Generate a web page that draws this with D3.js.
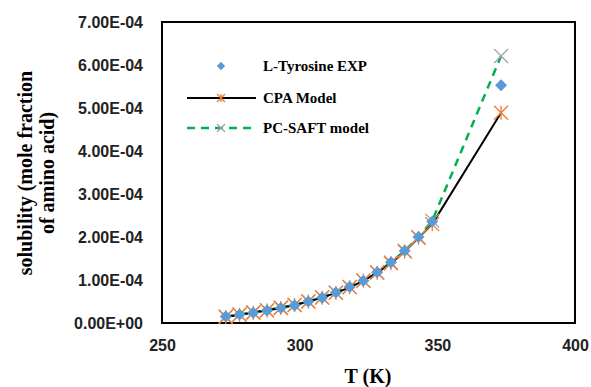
<!DOCTYPE html>
<html>
<head>
<meta charset="utf-8">
<script src="https://cdn.jsdelivr.net/npm/d3@7"></script>
<style>
  body { margin: 0; background: #fff; }
  svg { display: block; }
</style>
</head>
<body>
<div id="chart"></div>
<script>
// Temperatures (K)
const temps = [273.15, 278.15, 283.15, 288.15, 293.15, 298.15, 303.15, 308.15, 313.15,
  318.15, 323.15, 328.15, 333.15, 338.15, 343.15, 348.15, 373.15];

// Solubility, mole fraction
const expValues = [1.5e-5, 2.0e-5, 2.4e-5, 2.9e-5, 3.5e-5, 4.1e-5, 5.0e-5, 5.9e-5, 7.1e-5,
  8.4e-5, 9.8e-5, 1.18e-4, 1.41e-4, 1.68e-4, 2.0e-4, 2.36e-4, 5.53e-4];
const cpaValues = [1.4e-5, 1.9e-5, 2.4e-5, 2.9e-5, 3.5e-5, 4.2e-5, 5.0e-5, 5.9e-5, 7.0e-5,
  8.3e-5, 9.8e-5, 1.17e-4, 1.39e-4, 1.66e-4, 1.98e-4, 2.30e-4, 4.89e-4];
const saftValues = [1.5e-5, 2.0e-5, 2.5e-5, 3.0e-5, 3.6e-5, 4.2e-5, 5.0e-5, 6.0e-5, 7.1e-5,
  8.4e-5, 9.9e-5, 1.18e-4, 1.41e-4, 1.68e-4, 2.0e-4, 2.38e-4, 6.21e-4];

// Axis ticks
const xTicks = [250, 300, 350, 400];
const yTicks = [0, 1e-4, 2e-4, 3e-4, 4e-4, 5e-4, 6e-4, 7e-4];
const yTickLabels = ['0.00E+00', '1.00E-04', '2.00E-04', '3.00E-04', '4.00E-04', '5.00E-04', '6.00E-04', '7.00E-04'];

const legendNames = ['L-Tyrosine EXP', 'CPA Model', 'PC-SAFT model'];

const W = 591, H = 387;
const plot = { left: 162, right: 575, top: 22, bottom: 323 };

const svg = d3.select('#chart').append('svg')
  .attr('width', W).attr('height', H);

const x = d3.scaleLinear().domain([250, 400]).range([plot.left, plot.right]);
const y = d3.scaleLinear().domain([0, 7e-4]).range([plot.bottom, plot.top]);

// Frame
svg.append('rect')
  .attr('x', plot.left).attr('y', plot.top)
  .attr('width', plot.right - plot.left).attr('height', plot.bottom - plot.top)
  .attr('fill', 'none').attr('stroke', '#000').attr('stroke-width', 2);

// Axes
const tickFont = '"Liberation Sans", Arial, sans-serif';
const yAxis = svg.append('g')
  .attr('transform', `translate(${plot.left},0)`)
  .call(d3.axisLeft(y).tickValues(yTicks).tickSize(0).tickPadding(19)
    .tickFormat((d, i) => yTickLabels[i]));
yAxis.select('.domain').remove();
yAxis.selectAll('text').attr('font-family', tickFont).attr('font-size', 16)
  .attr('font-weight', 'bold').attr('fill', '#222');

const xAxis = svg.append('g')
  .attr('transform', `translate(0,${plot.bottom})`)
  .call(d3.axisBottom(x).tickValues(xTicks).tickSize(0).tickPadding(17)
    .tickFormat(d3.format('d')));
xAxis.select('.domain').remove();
xAxis.selectAll('text').attr('font-family', tickFont).attr('font-size', 16)
  .attr('font-weight', 'bold').attr('fill', '#222');

// Axis titles
const titleFont = '"Liberation Serif", "Times New Roman", serif';
svg.append('text')
  .attr('x', 368).attr('y', 383)
  .attr('text-anchor', 'middle')
  .attr('font-family', titleFont).attr('font-size', 20).attr('font-weight', 'bold')
  .text('T (K)');

const yTitle = svg.append('text')
  .attr('transform', 'translate(32,173) rotate(-90)')
  .attr('text-anchor', 'middle')
  .attr('font-family', titleFont).attr('font-size', 20).attr('font-weight', 'bold');
yTitle.append('tspan').attr('x', 0).attr('dy', 0).text('solubility (mole fraction');
yTitle.append('tspan').attr('x', 0).attr('dy', 22).text('of amino acid)');

// Series
const pts = vals => temps.map((t, i) => [t, vals[i]]);
const line = d3.line().x(d => x(d[0])).y(d => y(d[1]));

svg.append('path').datum(pts(saftValues))
  .attr('d', line).attr('fill', 'none')
  .attr('stroke', '#00B050').attr('stroke-width', 2.5).attr('stroke-dasharray', '8,6');

svg.append('path').datum(pts(cpaValues))
  .attr('d', line).attr('fill', 'none')
  .attr('stroke', '#000').attr('stroke-width', 2);

// marker drawers
function cross(g, cx, cy, r, color) {
  g.append('path')
    .attr('d', `M${cx - r},${cy - r}L${cx + r},${cy + r}M${cx - r},${cy + r}L${cx + r},${cy - r}`)
    .attr('stroke', color).attr('stroke-width', 1.3).attr('fill', 'none');
}
function star(g, cx, cy, r, color) {
  g.append('path')
    .attr('d', `M${cx - r},${cy - r}L${cx + r},${cy + r}M${cx - r},${cy + r}L${cx + r},${cy - r}M${cx},${cy - r}L${cx},${cy + r}`)
    .attr('stroke', color).attr('stroke-width', 1.3).attr('fill', 'none');
}
const diamond = d3.symbol().type(d3.symbolDiamond2).size(92);

const gSaft = svg.append('g');
pts(saftValues).forEach(d => cross(gSaft, x(d[0]), y(d[1]), 7, '#A5A5A5'));
const gCpa = svg.append('g');
pts(cpaValues).forEach(d => star(gCpa, x(d[0]), y(d[1]), 7, '#ED7D31'));

svg.append('g').selectAll('path')
  .data(pts(expValues))
  .join('path')
  .attr('transform', d => `translate(${x(d[0])},${y(d[1])})`)
  .attr('d', diamond)
  .attr('fill', '#5B9BD5');

// Legend
const legend = svg.append('g');
const legendY = [66, 98, 128];
legend.append('path')
  .attr('transform', `translate(221,${legendY[0]})`)
  .attr('d', d3.symbol().type(d3.symbolDiamond2).size(45))
  .attr('fill', '#5B9BD5');
legend.append('line')
  .attr('x1', 187).attr('x2', 256).attr('y1', legendY[1]).attr('y2', legendY[1])
  .attr('stroke', '#000').attr('stroke-width', 2);
star(legend, 221, legendY[1], 4, '#ED7D31');
legend.append('line')
  .attr('x1', 187).attr('x2', 256).attr('y1', legendY[2]).attr('y2', legendY[2])
  .attr('stroke', '#00B050').attr('stroke-width', 2.5).attr('stroke-dasharray', '8,6');
cross(legend, 221, legendY[2], 4, '#A5A5A5');

legend.selectAll('text')
  .data(legendNames)
  .join('text')
  .attr('x', 263).attr('y', (d, i) => legendY[i] + 5)
  .attr('font-family', titleFont).attr('font-size', 15).attr('font-weight', 'bold')
  .text(d => d);
</script>
</body>
</html>
